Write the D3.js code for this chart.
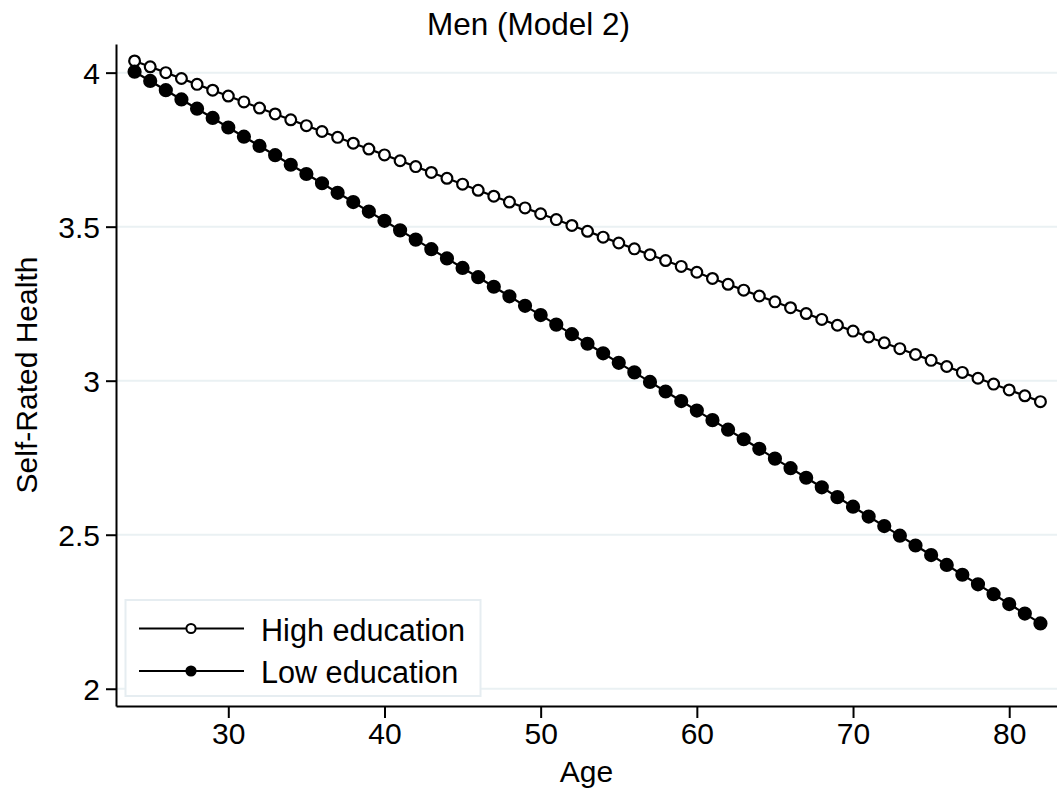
<!DOCTYPE html>
<html>
<head>
<meta charset="utf-8">
<script src="https://cdn.jsdelivr.net/npm/d3@7"></script>
<style>
  body { margin: 0; background: #fff; }
  svg { display: block; font-family: "Liberation Sans", Arial, sans-serif; }
  .axis path, .axis line { stroke: #000; stroke-width: 2; }
  .axis text { font-size: 30px; fill: #000; }
</style>
</head>
<body>
<div class="chart"></div>
<script>
// ages 24..82, one point each year
const ages = [24,25,26,27,28,29,30,31,32,33,34,35,36,37,38,39,40,41,42,43,44,45,46,47,48,49,50,51,52,53,
  54,55,56,57,58,59,60,61,62,63,64,65,66,67,68,69,70,71,72,73,74,75,76,77,78,79,80,81,82]

const highEdu = [4.038,4.019,4.000,3.981,3.962,3.943,3.924,3.905,3.885,3.866,3.847,3.828,3.809,3.790,3.771,
  3.752,3.733,3.714,3.695,3.676,3.657,3.638,3.618,3.599,3.580,3.561,3.542,3.523,3.504,3.485,3.466,3.447,
  3.428,3.409,3.390,3.371,3.352,3.332,3.313,3.294,3.275,3.256,3.237,3.218,3.199,3.180,3.161,3.142,3.123,
  3.104,3.085,3.066,3.046,3.027,3.008,2.989,2.970,2.951,2.932]

const lowEdu = [4.003,3.973,3.943,3.913,3.883,3.853,3.822,3.792,3.762,3.732,3.701,3.671,3.641,3.610,3.580,
  3.549,3.519,3.488,3.458,3.427,3.397,3.366,3.336,3.305,3.274,3.243,3.213,3.182,3.151,3.120,3.089,3.058,
  3.027,2.996,2.965,2.934,2.903,2.872,2.841,2.810,2.779,2.747,2.716,2.685,2.654,2.622,2.591,2.559,2.528,
  2.497,2.465,2.434,2.402,2.370,2.339,2.307,2.275,2.244,2.212]

const yTicks = [2, 2.5, 3, 3.5, 4]
const xTicks = [30, 40, 50, 60, 70, 80]
const seriesNames = ['High education', 'Low education']

const width = 1057, height = 789
const plotL = 116, plotR = 1057, plotT = 44, plotB = 706

let svg = d3.select('.chart').append('svg')
  .attr('width', width)
  .attr('height', height)

let x = d3.scaleLinear().domain([22.81, 83.06]).range([plotL, plotR])
let y = d3.scaleLinear().domain([1.944, 4.093]).range([plotB, plotT])

// grid
svg.append('g').selectAll('line')
  .data(yTicks)
  .enter()
  .append('line')
  .attr('x1', plotL).attr('x2', plotR)
  .attr('y1', d => y(d)).attr('y2', d => y(d))
  .attr('stroke', '#eaf1f3')
  .attr('stroke-width', 2)

svg.append('g')
  .attr('class', 'axis')
  .attr('transform', `translate(${plotL},0)`)
  .call(d3.axisLeft(y).tickValues(yTicks).tickFormat(d3.format('~g')).tickSize(10).tickPadding(6).tickSizeOuter(0))
  .call(g => g.selectAll('text').attr('dy', '0.36em'))

svg.append('g')
  .attr('class', 'axis')
  .attr('transform', `translate(0,${plotB})`)
  .call(d3.axisBottom(x).tickValues(xTicks).tickSize(12).tickPadding(5).tickSizeOuter(0))

let line = d3.line()
  .x((d, i) => x(ages[i]))
  .y(d => y(d))

function drawSeries(values, fill) {
  svg.append('path')
    .datum(values)
    .attr('d', line)
    .attr('fill', 'none')
    .attr('stroke', '#000')
    .attr('stroke-width', 2.2)

  svg.append('g').selectAll('circle')
    .data(values)
    .enter()
    .append('circle')
    .attr('cx', (d, i) => x(ages[i]))
    .attr('cy', d => y(d))
    .attr('r', fill === '#000' ? 6 : 5.4)
    .attr('fill', fill)
    .attr('stroke', '#000')
    .attr('stroke-width', 2.2)
}

drawSeries(highEdu, '#fff')
drawSeries(lowEdu, '#000')

// legend
let legend = svg.append('g')
legend.append('rect')
  .attr('x', 125.5).attr('y', 600)
  .attr('width', 355).attr('height', 96)
  .attr('fill', '#fff')
  .attr('stroke', '#e6edf1')
  .attr('stroke-width', 2)

let rows = legend.selectAll('g.row')
  .data(seriesNames)
  .enter()
  .append('g')
  .attr('class', 'row')
  .attr('transform', (d, i) => `translate(0,${628.5 + i * 42.5})`)

rows.append('line')
  .attr('x1', 139).attr('x2', 244)
  .attr('stroke', '#000').attr('stroke-width', 1.8)
rows.append('circle')
  .attr('cx', 191).attr('r', 4.6)
  .attr('fill', (d, i) => i === 0 ? '#fff' : '#000')
  .attr('stroke', '#000').attr('stroke-width', 2)
rows.append('text')
  .attr('x', 261).attr('y', 12)
  .attr('font-size', 30.6)
  .text(d => d)

// titles
svg.append('text')
  .attr('x', width / 2).attr('y', 35)
  .attr('text-anchor', 'middle')
  .attr('font-size', 31.5)
  .text('Men (Model 2)')

svg.append('text')
  .attr('x', (plotL + plotR) / 2).attr('y', 782)
  .attr('text-anchor', 'middle')
  .attr('font-size', 30)
  .text('Age')

svg.append('text')
  .attr('transform', `translate(37,${(plotT + plotB) / 2}) rotate(-90)`)
  .attr('text-anchor', 'middle')
  .attr('font-size', 30)
  .text('Self-Rated Health')
</script>
</body>
</html>
